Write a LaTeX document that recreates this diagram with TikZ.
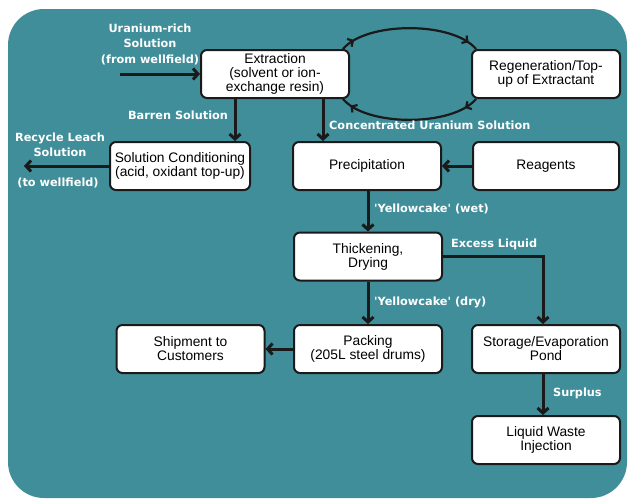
\documentclass[tikz,border=0pt]{standalone}
\usepackage{fontspec}
\setmainfont{Liberation Sans}
\newfontfamily\lblfont{DejaVu Sans}
\usetikzlibrary{arrows.meta}
\usetikzlibrary{decorations.markings}
\definecolor{pondteal}{RGB}{64,142,154}
\definecolor{ink}{RGB}{26,26,26}

\begin{document}
\begin{tikzpicture}[x=1pt, y=-1pt,
  box/.style={draw=ink, fill=white, line width=2pt, rounded corners=6pt, minimum width=148pt, minimum height=48pt, align=center, inner sep=2pt, font=\fontsize{13.8}{14}\selectfont},
  flow/.style={draw=ink, line width=3pt, -{Straight Barb[length=5pt,width=11pt]}},
  lbl/.style={text=white, inner sep=0pt, font=\lblfont\fontsize{11.3}{15.5}\selectfont\bfseries},
  cycle/.style={draw=ink, line width=2.2pt, postaction=decorate,
    decoration={markings,
      mark=at position 0.1 with {\arrow{Straight Barb[length=4pt,width=9pt]}},
      mark=at position 0.93 with {\arrow{Straight Barb[length=4pt,width=9pt]}}}}]
\useasboundingbox (0,0) rectangle (632,499);
\fill[pondteal, rounded corners=36pt] (8,9) rectangle (627,498);

\node [box] (ext) at (275,74) {Extraction\\(solvent or ion-\\exchange resin)};
\node [box] (reg) at (546,74) {Regeneration/Top-\\up of Extractant};
\node [box, minimum width=140pt] (cond) at (180,166) {Solution Conditioning\\(acid, oxidant top-up)};
\node [box] (prec) at (367,166) {Precipitation};
\node [box, minimum width=146pt] (reag) at (546,166) {Reagents};
\node [box] (thick) at (368,256.5) {Thickening,\\Drying};
\node [box] (pack) at (368,349) {Packing\\(205L steel drums)};
\node [box] (ship) at (190.5,349) {Shipment to\\Customers};
\node [box] (store) at (546,349) {Storage/Evaporation\\Pond};
\node [box] (waste) at (546,440) {Liquid Waste\\Injection};

\coordinate (src) at (120,74);
\coordinate (sink) at (24,166);

% main flow
\draw[flow] (src) -- (ext);
\draw[flow] ([xshift=-40pt]ext.south) -- ([xshift=-40pt]ext.south |- cond.north);
\draw[flow] (cond) -- (sink);
\draw[flow] ([xshift=48pt]ext.south) -- ([xshift=48pt]ext.south |- prec.north);
\draw[flow] (reag) -- (prec);
\draw[flow] (prec.south -| thick) -- (thick);
\draw[flow] (thick) -- (pack);
\draw[flow] (thick.east) -| ([xshift=-3pt]store.north);
\draw[flow] (pack) -- (ship);
\draw[flow] ([xshift=-3pt]store.south) -- ([xshift=-3pt]waste.north);

% extractant loop
\draw[cycle] ([xshift=-7pt]ext.north east) to[out=50, in=130, looseness=0.7] ([xshift=5pt]reg.north west);
\draw[cycle] ([xshift=5pt]reg.south west) to[out=-130, in=-50, looseness=0.7] ([xshift=-7pt]ext.south east);

\node [lbl, align=center] (inlbl) at (150,44) {Uranium-rich\\Solution\\(from wellfield)};
\node [lbl] (barlbl) at (178,115) {Barren Solution};
\node [lbl, align=center] (reclbl) at (60,145) {Recycle Leach\\Solution};
\node [lbl] (wflbl) at (58,183) {(to wellfield)};
\node [lbl, anchor=west] (conclbl) at (329,125) {Concentrated Uranium Solution};
\node [lbl, anchor=west] (wetlbl) at (374,209) {\textquotesingle Yellowcake\textquotesingle{} (wet)};
\node [lbl, anchor=west] (exclbl) at (451,244) {Excess Liquid};
\node [lbl, anchor=west] (drylbl) at (374,302) {\textquotesingle Yellowcake\textquotesingle{} (dry)};
\node [lbl, anchor=west] (surlbl) at (553,393) {Surplus};
\end{tikzpicture}
\end{document}
